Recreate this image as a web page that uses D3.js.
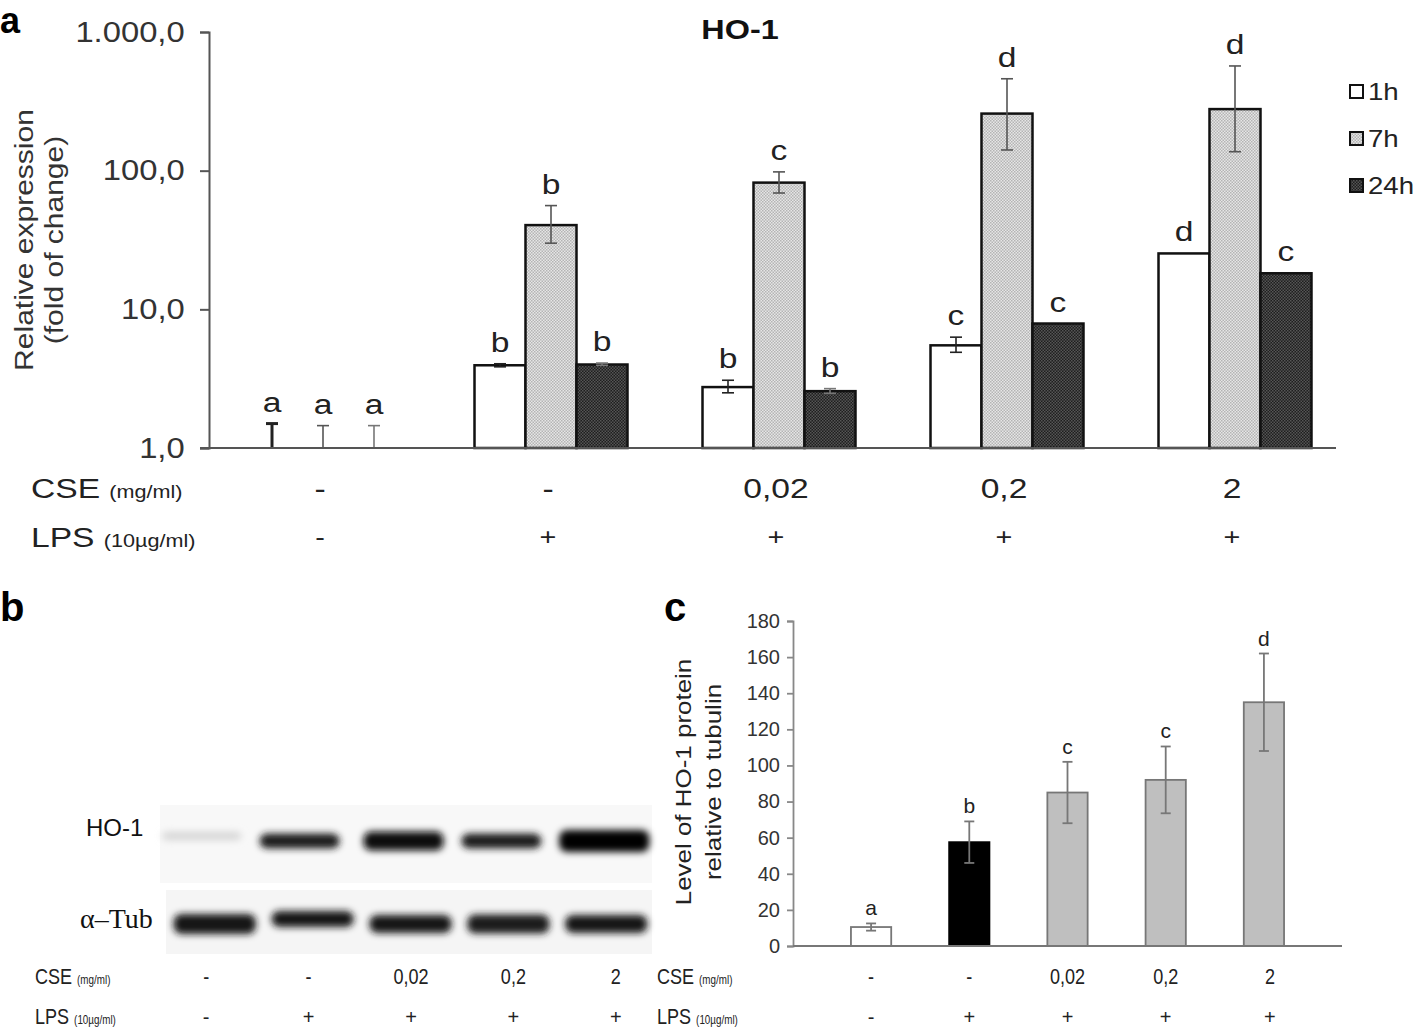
<!DOCTYPE html>
<html>
<head>
<meta charset="utf-8">
<script src="https://cdn.jsdelivr.net/npm/d3@7"></script>
<style>
  body { margin: 0; background: #fff; }
  text { font-family: "Liberation Sans", Arial, sans-serif; }
</style>
</head>
<body>
<script>
// panel a : qPCR HO-1, log scale
const groupsA = ["ctrl", "LPS", "LPS+0,02", "LPS+0,2", "LPS+2"];
const cseLabels = ["-", "-", "0,02", "0,2", "2"];
const lpsLabels = ["-", "+", "+", "+", "+"];
const series = ["1h", "7h", "24h"];
const val1h = [1.0, 3.95, 2.75, 5.5, 25.3];
const val7h = [1.0, 40.5, 82, 258, 278];
const val24h = [1.0, 4.0, 2.57, 7.9, 18.2];
const hi1h = [1.5, 4.05, 3.08, 6.3, null];
const lo1h = [1.0, 3.85, 2.5, 4.9, null];
const hi7h = [1.45, 56, 98, 460, 569];
const lo7h = [1.0, 30, 69, 141, 137];
const hi24h = [1.45, 4.1, 2.68, null, null];
const lo24h = [1.0, 3.95, 2.48, null, null];
const let1h = ["a", "b", "b", "c", "d"];
const let7h = ["a", "b", "c", "d", "d"];
const let24h = ["a", "b", "b", "c", "c"];
const ticksA = [1, 10, 100, 1000];

// panel b : western blot band strength (0..1) and thickness
const hoStrength = [0.25, 0.9, 0.97, 0.9, 1.0];
const hoThick = [9, 15, 19, 15, 22];
const tubStrength = [0.93, 0.92, 0.92, 0.9, 0.92];
const tubThick = [20, 16, 18, 19, 18];

// panel c : protein level relative to tubulin
const protVal = [10.5, 57.5, 85, 92, 135];
const protErr = [2, 11.5, 17, 18.5, 27];
const protLet = ["a", "b", "c", "c", "d"];
const protFill = ["#ffffff", "#000000", "#bfbfbf", "#bfbfbf", "#bfbfbf"];

const W = 1418, H = 1036;
const SX = 1.2; // the figure's type is set wider than Liberation Sans
const svg = d3.select("body").append("svg").attr("width", W).attr("height", H);
const defs = svg.append("defs");

// stretch a text horizontally around its own x
function wide(sel, x, sx) {
  return sel.attr("transform", `translate(${x},0) scale(${sx || SX},1) translate(${-x},0)`);
}

// dotted fills like the excel patterns
function dotPattern(id, base, dot) {
  const p = defs.append("pattern").attr("id", id)
    .attr("width", 3).attr("height", 3).attr("patternUnits", "userSpaceOnUse");
  p.append("rect").attr("width", 3).attr("height", 3).attr("fill", base);
  p.append("rect").attr("width", 1.5).attr("height", 1.5).attr("fill", dot);
  p.append("rect").attr("x", 1.5).attr("y", 1.5).attr("width", 1.5).attr("height", 1.5).attr("fill", dot);
}
dotPattern("p7h", "#e6e6e6", "#b4b4b4");
dotPattern("p24h", "#1e1e1e", "#555555");
const fills = { "1h": "#ffffff", "7h": "url(#p7h)", "24h": "url(#p24h)" };
const errCol = { "1h": "#222", "7h": "#555", "24h": "#777" };

defs.append("filter").attr("id", "blur").attr("x", "-20%").attr("y", "-100%")
    .attr("width", "140%").attr("height", "300%")
  .append("feGaussianBlur").attr("stdDeviation", 3.8);

// ---------------- panel a ----------------
const x0 = d3.scaleBand().domain(groupsA).range([209, 1349]).paddingInner(0.329).paddingOuter(0.1645);
const x1 = d3.scaleBand().domain(series).range([0, x0.bandwidth()]);
const yA = d3.scaleLog().domain([1, 1000]).range([448, 32]);

const rows = [];
groupsA.forEach((g, i) => {
  rows.push({ g, s: "1h", v: val1h[i], hi: hi1h[i], lo: lo1h[i], l: let1h[i] });
  rows.push({ g, s: "7h", v: val7h[i], hi: hi7h[i], lo: lo7h[i], l: let7h[i] });
  rows.push({ g, s: "24h", v: val24h[i], hi: hi24h[i], lo: lo24h[i], l: let24h[i] });
});

const fmt = d3.formatLocale({ decimal: ",", thousands: ".", grouping: [3], currency: ["", ""] }).format(",.1f");
const axA = svg.append("g").attr("transform", "translate(209,0)")
  .call(d3.axisLeft(yA).tickValues(ticksA).tickFormat(fmt).tickSize(9).tickPadding(12.5));
axA.select(".domain").attr("stroke", "#555").attr("stroke-width", 2);
axA.selectAll(".tick line").attr("stroke", "#555").attr("stroke-width", 2);
axA.selectAll(".tick text").attr("font-size", 29).attr("fill", "#333")
  .attr("transform", "scale(1.13,1)")
  .attr("font-family", "Liberation Sans, Arial, sans-serif");

const barsA = svg.append("g");
barsA.selectAll("rect").data(rows.filter(d => d.v > 1)).join("rect")
  .attr("x", d => x0(d.g) + x1(d.s))
  .attr("y", d => yA(d.v))
  .attr("width", x1.bandwidth())
  .attr("height", d => yA(1) - yA(d.v))
  .attr("fill", d => fills[d.s])
  .attr("stroke", "#111").attr("stroke-width", 2.5);

const cx = d => x0(d.g) + x1(d.s) + x1.bandwidth() / 2;
const errA = svg.append("g");
rows.filter(d => d.hi != null).forEach(d => {
  const c = cx(d);
  const w = d.g === "ctrl" && d.s === "1h" ? 3 : 1.6;
  errA.append("line").attr("x1", c).attr("x2", c).attr("y1", yA(d.hi)).attr("y2", yA(d.lo))
    .attr("stroke", errCol[d.s]).attr("stroke-width", w);
  errA.append("line").attr("x1", c - 6).attr("x2", c + 6).attr("y1", yA(d.hi)).attr("y2", yA(d.hi))
    .attr("stroke", errCol[d.s]).attr("stroke-width", w);
  if (d.lo > 1)
    errA.append("line").attr("x1", c - 6).attr("x2", c + 6).attr("y1", yA(d.lo)).attr("y2", yA(d.lo))
      .attr("stroke", errCol[d.s]).attr("stroke-width", 1.6);
});

svg.append("line").attr("x1", 200).attr("x2", 1336).attr("y1", yA(1)).attr("y2", yA(1))
  .attr("stroke", "#555").attr("stroke-width", 2);

svg.append("g").selectAll("text").data(rows).join("text")
  .attr("x", cx)
  .attr("y", d => Math.min(yA(d.v), d.hi != null ? yA(d.hi) : 1e9) - 12)
  .attr("text-anchor", "middle").attr("font-size", 28).attr("fill", "#222")
  .each(function(d) { wide(d3.select(this), cx(d)); })
  .text(d => d.l);

wide(svg.append("text").attr("x", 740).attr("y", 39).attr("text-anchor", "middle")
  .attr("font-size", 27).attr("font-weight", "bold").attr("fill", "#111").text("HO-1"), 740);

svg.append("text").attr("transform", `translate(33,240) rotate(-90) scale(${SX},1)`).attr("text-anchor", "middle")
  .attr("font-size", 25).attr("fill", "#333").text("Relative expression");
svg.append("text").attr("transform", `translate(63,240) rotate(-90) scale(${SX},1)`).attr("text-anchor", "middle")
  .attr("font-size", 25).attr("fill", "#333").text("(fold of change)");

// legend
const lg = svg.append("g").attr("transform", "translate(1350,0)");
series.forEach((s, i) => {
  const y = 85 + i * 47;
  lg.append("rect").attr("x", 0).attr("y", y).attr("width", 13).attr("height", 13)
    .attr("fill", fills[s]).attr("stroke", "#111").attr("stroke-width", 2);
  wide(lg.append("text").attr("x", 18).attr("y", y + 15).attr("font-size", 23).attr("fill", "#222").text(s), 18);
});

// treatment rows under panel a
const rowA = svg.append("g").attr("fill", "#222");
const tCse = wide(rowA.append("text").attr("x", 31).attr("y", 498).attr("font-size", 28), 31);
tCse.append("tspan").text("CSE ");
tCse.append("tspan").attr("font-size", 18).text("(mg/ml)");
const tLps = wide(rowA.append("text").attr("x", 31).attr("y", 547).attr("font-size", 28), 31);
tLps.append("tspan").text("LPS ");
tLps.append("tspan").attr("font-size", 18).text("(10µg/ml)");
groupsA.forEach((g, i) => {
  const c = x0(g) + x0.bandwidth() / 2 - 3;
  wide(rowA.append("text").attr("x", c).attr("y", 498).attr("text-anchor", "middle")
    .attr("font-size", 28).text(cseLabels[i]), c);
  wide(rowA.append("text").attr("x", c).attr("y", 545).attr("text-anchor", "middle")
    .attr("font-size", 24).text(lpsLabels[i]), c);
});

// panel letters
[["a", 0, 33], ["b", 0, 621], ["c", 664, 621]].forEach(([t, x, y]) =>
  svg.append("text").attr("x", x).attr("y", y).attr("font-size", t === "a" ? 36 : 40)
    .attr("font-weight", "bold").attr("fill", "#000").text(t));

// ---------------- panel b ----------------
const lanes = d3.scaleBand().domain(d3.range(5)).range([150, 657]).padding(0.18);
const laneLab = d3.scaleBand().domain(d3.range(5)).range([155, 667]);
const blot = svg.append("g");
blot.append("rect").attr("x", 160).attr("y", 805).attr("width", 492).attr("height", 78).attr("fill", "#f8f8f8");
blot.append("rect").attr("x", 166).attr("y", 890).attr("width", 486).attr("height", 64).attr("fill", "#f5f5f5");
blot.append("g").attr("filter", "url(#blur)").selectAll("rect").data(d3.range(5)).join("rect")
  .attr("x", i => lanes(i) - (i === 0 ? 6 : 0) - (i === 1 ? 6 : 0))
  .attr("width", i => lanes.bandwidth() + (i === 4 ? 10 : 0))
  .attr("y", i => 841 - hoThick[i] / 2 - (i === 0 ? 5 : 0))
  .attr("height", i => hoThick[i])
  .attr("rx", 8)
  .attr("fill", i => d3.interpolateGreys(hoStrength[i]));
blot.append("g").attr("filter", "url(#blur)").selectAll("rect").data(d3.range(5)).join("rect")
  .attr("x", i => lanes(i) + 6)
  .attr("width", lanes.bandwidth() + 2)
  .attr("y", i => 924 - tubThick[i] / 2 - (i === 1 ? 5 : 0))
  .attr("height", i => tubThick[i])
  .attr("rx", 8)
  .attr("fill", i => d3.interpolateGreys(tubStrength[i]));

svg.append("text").attr("x", 86).attr("y", 836).attr("font-size", 24).attr("fill", "#111").text("HO-1");
svg.append("text").attr("x", 80).attr("y", 928).attr("font-size", 28).attr("fill", "#111")
  .style("font-family", "'Liberation Serif', 'Times New Roman', serif").text("α–Tub");

function condRows(g, x, xs, ycse, ylps) {
  const a = wide(g.append("text").attr("x", x).attr("y", ycse).attr("font-size", 22), x, 0.82);
  a.append("tspan").text("CSE ");
  a.append("tspan").attr("font-size", 12).text(" (mg/ml)");
  const b = wide(g.append("text").attr("x", x).attr("y", ylps).attr("font-size", 22), x, 0.82);
  b.append("tspan").text("LPS ");
  b.append("tspan").attr("font-size", 12).text("(10µg/ml)");
  xs.forEach((cxv, i) => {
    wide(g.append("text").attr("x", cxv).attr("y", ycse).attr("text-anchor", "middle").attr("font-size", 22)
      .text(cseLabels[i]), cxv, 0.82);
    g.append("text").attr("x", cxv).attr("y", ylps).attr("text-anchor", "middle").attr("font-size", 20)
      .text(lpsLabels[i]);
  });
}
condRows(svg.append("g").attr("fill", "#222"), 35,
  d3.range(5).map(i => laneLab(i) + laneLab.bandwidth() / 2), 984, 1024);

// ---------------- panel c ----------------
const xc = d3.scaleBand().domain(d3.range(5)).range([793, 1342]).padding(0.59);
const yc = d3.scaleLinear().domain([0, 180]).range([946, 621]);

const axC = svg.append("g").attr("transform", "translate(793,0)")
  .call(d3.axisLeft(yc).tickValues(d3.range(0, 181, 20)).tickSize(6).tickPadding(7));
axC.select(".domain").attr("stroke", "#888").attr("stroke-width", 1.8);
axC.selectAll(".tick line").attr("stroke", "#888").attr("stroke-width", 1.8);
axC.selectAll(".tick text").attr("font-size", 20).attr("fill", "#333")
  .attr("font-family", "Liberation Sans, Arial, sans-serif");

svg.append("g").selectAll("rect").data(protVal).join("rect")
  .attr("x", (d, i) => xc(i)).attr("y", d => yc(d))
  .attr("width", xc.bandwidth()).attr("height", d => yc(0) - yc(d))
  .attr("fill", (d, i) => protFill[i])
  .attr("stroke", (d, i) => i === 1 ? "#000" : "#777").attr("stroke-width", 1.8);

svg.append("line").attr("x1", 793).attr("x2", 1342).attr("y1", yc(0)).attr("y2", yc(0))
  .attr("stroke", "#777").attr("stroke-width", 1.8);

const errC = svg.append("g").attr("stroke", "#777").attr("stroke-width", 1.8);
protVal.forEach((v, i) => {
  const c = xc(i) + xc.bandwidth() / 2;
  errC.append("line").attr("x1", c).attr("x2", c).attr("y1", yc(v + protErr[i])).attr("y2", yc(v - protErr[i]));
  errC.append("line").attr("x1", c - 5).attr("x2", c + 5).attr("y1", yc(v + protErr[i])).attr("y2", yc(v + protErr[i]));
  errC.append("line").attr("x1", c - 5).attr("x2", c + 5).attr("y1", yc(v - protErr[i])).attr("y2", yc(v - protErr[i]));
});
svg.append("g").selectAll("text").data(protLet).join("text")
  .attr("x", (d, i) => xc(i) + xc.bandwidth() / 2)
  .attr("y", (d, i) => yc(protVal[i] + protErr[i]) - 8)
  .attr("text-anchor", "middle").attr("font-size", 21).attr("fill", "#222").text(d => d);

svg.append("text").attr("transform", "translate(691,782) rotate(-90) scale(1.18,1)").attr("text-anchor", "middle")
  .attr("font-size", 22).attr("fill", "#222").text("Level of HO-1 protein");
svg.append("text").attr("transform", "translate(721,782) rotate(-90) scale(1.18,1)").attr("text-anchor", "middle")
  .attr("font-size", 22).attr("fill", "#222").text("relative to tubulin");

condRows(svg.append("g").attr("fill", "#222"), 657,
  d3.range(5).map(i => xc(i) + xc.bandwidth() / 2 + (i === 4 ? 6 : 0)), 984, 1024);
</script>
</body>
</html>
